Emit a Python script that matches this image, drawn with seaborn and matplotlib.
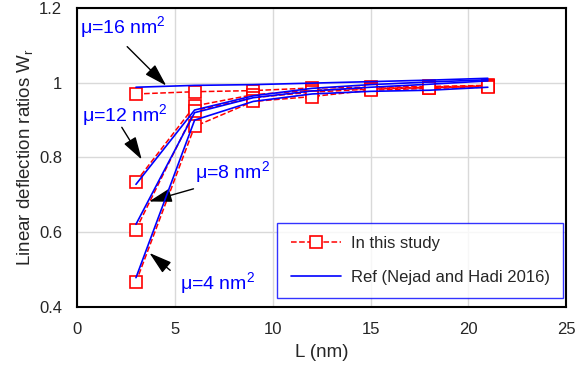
import pandas as pd
import matplotlib
import seaborn as sns
matplotlib.use('AGG')
import matplotlib.pyplot as plt

length_nm = [3, 6, 9, 12, 15, 18, 21]
mu_labels = ['μ=16 nm$^\\mathregular{2}$', 'μ=12 nm$^\\mathregular{2}$',
             'μ=8 nm$^\\mathregular{2}$', 'μ=4 nm$^\\mathregular{2}$']

study_mu16 = [0.970, 0.976, 0.979, 0.986, 0.988, 0.990, 0.993]
study_mu12 = [0.735, 0.938, 0.968, 0.980, 0.985, 0.988, 0.992]
study_mu8 = [0.607, 0.925, 0.960, 0.975, 0.983, 0.987, 0.990]
study_mu4 = [0.466, 0.883, 0.950, 0.963, 0.980, 0.985, 0.988]

ref_mu16 = [0.988, 0.993, 0.995, 0.999, 1.003, 1.007, 1.012]
ref_mu12 = [0.728, 0.927, 0.965, 0.985, 0.995, 1.002, 1.008]
ref_mu8 = [0.621, 0.920, 0.960, 0.978, 0.988, 0.996, 1.005]
ref_mu4 = [0.478, 0.900, 0.950, 0.970, 0.977, 0.980, 0.988]

y_ticks = [0.4, 0.6, 0.8, 1.0, 1.2]
y_tick_labels = ['0.4', '0.6', '0.8', '1', '1.2']
x_ticks = [0, 5, 10, 15, 20, 25]

sns.set_style('white')
plt.rcParams['font.family'] = ['Liberation Sans', 'DejaVu Sans']
plt.rcParams['mathtext.fontset'] = 'custom'
plt.rcParams['mathtext.rm'] = 'Liberation Sans'
plt.rcParams['mathtext.it'] = 'Liberation Sans:italic'

fig, ax = plt.subplots(figsize=(5.77, 3.67), dpi=100)

study = [study_mu16, study_mu12, study_mu8, study_mu4]
ref = [ref_mu16, ref_mu12, ref_mu8, ref_mu4]

for i, (s, r) in enumerate(zip(study, ref)):
    df = pd.DataFrame({'L': length_nm, 'study': s, 'ref': r})
    sns.lineplot(data=df, x='L', y='study', ax=ax, color='red', linestyle='--',
                 linewidth=1.1, marker='s', markersize=9, markerfacecolor='white',
                 markeredgecolor='red', markeredgewidth=1.2,
                 label='In this study' if i == 0 else None, zorder=3)
    sns.lineplot(data=df, x='L', y='ref', ax=ax, color='blue', linewidth=1.2,
                 label='Ref (Nejad and Hadi 2016)' if i == 0 else None, zorder=4)

# arrows + labels
ann_style = dict(arrowstyle='-|>,head_length=1.0,head_width=0.3', color='black',
                 lw=1.0, mutation_scale=14)
ax.annotate('', xy=(4.65, 0.987), xytext=(2.45, 1.102), arrowprops=ann_style)
ax.annotate('', xy=(3.37, 0.788), xytext=(2.2, 0.887), arrowprops=ann_style)
ax.annotate('', xy=(3.53, 0.680), xytext=(6.08, 0.718), arrowprops=ann_style)
ax.annotate('', xy=(3.58, 0.549), xytext=(4.86, 0.493), arrowprops=ann_style)
ax.text(0.15, 1.148, mu_labels[0], color='blue', fontsize=14, va='center')
ax.text(0.26, 0.914, mu_labels[1], color='blue', fontsize=14, va='center')
ax.text(6.03, 0.761, mu_labels[2], color='blue', fontsize=14, va='center')
ax.text(5.27, 0.463, mu_labels[3], color='blue', fontsize=14, va='center')

ax.set_xlim(0, 25)
ax.set_ylim(0.4, 1.2)
ax.set_xticks(x_ticks)
ax.set_yticks(y_ticks)
ax.set_yticklabels(y_tick_labels)
ax.tick_params(axis='x', labelsize=12, length=0, pad=11)
ax.tick_params(axis='y', labelsize=12, length=0, pad=11)
ax.grid(True, color='#d9d9d9', linewidth=1.0)
for sp in ax.spines.values():
    sp.set_color('black')
    sp.set_linewidth(1.5)
ax.set_xlabel('L (nm)', fontsize=13.5, labelpad=5)
ax.set_ylabel('Linear deflection ratios W$_\\mathregular{r}$', fontsize=13.5, labelpad=3)

leg = ax.legend(loc='lower right', bbox_to_anchor=(0.994, 0.03), borderaxespad=0,
                fontsize=12, frameon=True, fancybox=False, handlelength=3.0,
                handletextpad=0.6, borderpad=0.8, labelspacing=1.1)
leg.get_frame().set_edgecolor('blue')
leg.get_frame().set_linewidth(1.0)

plt.subplots_adjust(left=0.134, right=0.981, top=0.978, bottom=0.164)
plt.savefig('out.png', dpi=100)
plt.close(fig)
